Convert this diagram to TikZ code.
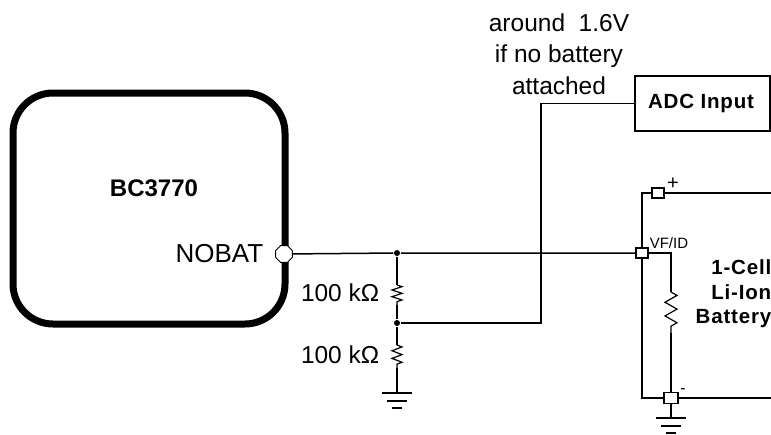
\documentclass[tikz,border=0pt]{standalone}
\usepackage{fontspec}
\setmainfont{Liberation Sans}
\usetikzlibrary{shapes.geometric,decorations.pathmorphing}

\newcommand{\groundsym}[1]{%
    \foreach \w/\dy in {15/0,10/8,5/15}
        \draw[line width=1.3pt] ([xshift=-\w pt,yshift=-\dy pt]#1) -- ([xshift=\w pt,yshift=-\dy pt]#1);}

\begin{document}
\begin{tikzpicture}[x=1pt,y=-1pt,line width=1.5pt]
    \tikzstyle{txt}=[inner sep=0pt,font=\fontsize{24.5}{28}\selectfont]
    \tikzstyle{boldtxt}=[inner sep=0pt,font=\bfseries\addfontfeatures{LetterSpace=4}\fontsize{20.5}{24.5}\selectfont]
    \tikzstyle{pad}=[rectangle,draw,fill=white,line width=1.2pt,inner sep=0pt,minimum width=12pt,minimum height=10pt]
    \tikzstyle{dot}=[circle,fill=black,inner sep=0pt,minimum size=6pt]
    \tikzstyle{res}=[decorate,decoration={zigzag,amplitude=5pt,segment length=6.67pt},line width=1.2pt]
    \useasboundingbox (0,0) rectangle (771,434);

    % Draw the controller block.
    \node[rectangle,draw,line width=7pt,rounded corners=40pt,minimum width=272pt,minimum height=231pt] (chip) at (149,208.5) {};
    \node[inner sep=0pt,font=\bfseries\fontsize{24}{28}\selectfont] (chipname) at (154,188) {BC3770};
    \node[txt,anchor=east,font=\fontsize{26}{28}\selectfont] (nobatlbl) at (264,254) {NOBAT};
    \node[regular polygon,regular polygon sides=8,draw,fill=white,line width=1pt,minimum size=18pt,inner sep=0pt] (nobat) at (284,254) {};

    % Draw the divider.
    \node[dot] (J-1) at (397,253) {};
    \node[dot] (J-2) at (397,323) {};
    \coordinate (R1-a) at (397,285);
    \coordinate (R1-b) at (397,305);
    \coordinate (R2-a) at (397,345);
    \coordinate (R2-b) at (397,368);
    \coordinate (G-1) at (397,393);
    \node[txt,anchor=east] (R1-lbl) at (380,293) {100 kΩ};
    \node[txt,anchor=east] (R2-lbl) at (380,355) {100 kΩ};

    % Draw the ADC block.
    \node[rectangle,draw,minimum width=135pt,minimum height=55pt,inner sep=0pt] (adc) at (702.5,103.5) {};
    \node[boldtxt] (adclbl) at (701,103) {ADC Input};
    \coordinate (tap) at (541,323);
    \node[txt,align=center,font=\fontsize{24.5}{31.5}\selectfont] (note) at (559,54) {around\ \ 1.6V\\if no battery\\attached};

    % Draw the battery pack.
    \coordinate (B-tl) at (642,193);
    \coordinate (B-tr) at (771,193);
    \coordinate (B-bl) at (642,398);
    \coordinate (B-br) at (771,398);
    \node[pad] (plus) at (658,193) {};
    \node[pad] (vfid) at (642,253) {};
    \node[pad,minimum width=14pt,minimum height=11pt] (minus) at (671,398) {};
    \coordinate (R3-c) at (671,253);
    \coordinate (R3-a) at (671,292);
    \coordinate (R3-b) at (671,333);
    \coordinate (G-2) at (671,418);
    \node[inner sep=0pt,font=\fontsize{20}{22}\selectfont] (pluslbl) at (673,184) {+};
    \node[inner sep=0pt,font=\fontsize{16}{18}\selectfont] (minuslbl) at (683,391) {-};
    \node[inner sep=0pt,anchor=west,font=\fontsize{15}{16}\selectfont] (vfidlbl) at (649,243) {VF/ID};
    \node[boldtxt,align=right,anchor=east] (batlbl) at (772,294) {1-Cell\\Li-Ion\\Battery};

    % Connect the wires.
    \draw (nobat) -- (J-1) -- (vfid);
    \draw (J-1) -- (R1-a);
    \draw[res] (R1-a) -- (R1-b);
    \draw (R1-b) -- (J-2) -- (R2-a);
    \draw[res,decoration={segment length=7.67pt}] (R2-a) -- (R2-b);
    \draw (R2-b) -- (G-1);
    \draw (J-2) -- (tap) |- (adc.west);
    \draw (B-tr) -- (plus) -- (B-tl) -- (vfid) -- (B-bl) -- (minus) -- (B-br);
    \draw (vfid) -- (R3-c) -- (R3-a);
    \draw[res,decoration={segment length=13.67pt,amplitude=6pt}] (R3-a) -- (R3-b);
    \draw (R3-b) -- (minus) -- (G-2);

    % Ground symbols.
    \groundsym{G-1}
    \groundsym{G-2}
\end{tikzpicture}
\end{document}
